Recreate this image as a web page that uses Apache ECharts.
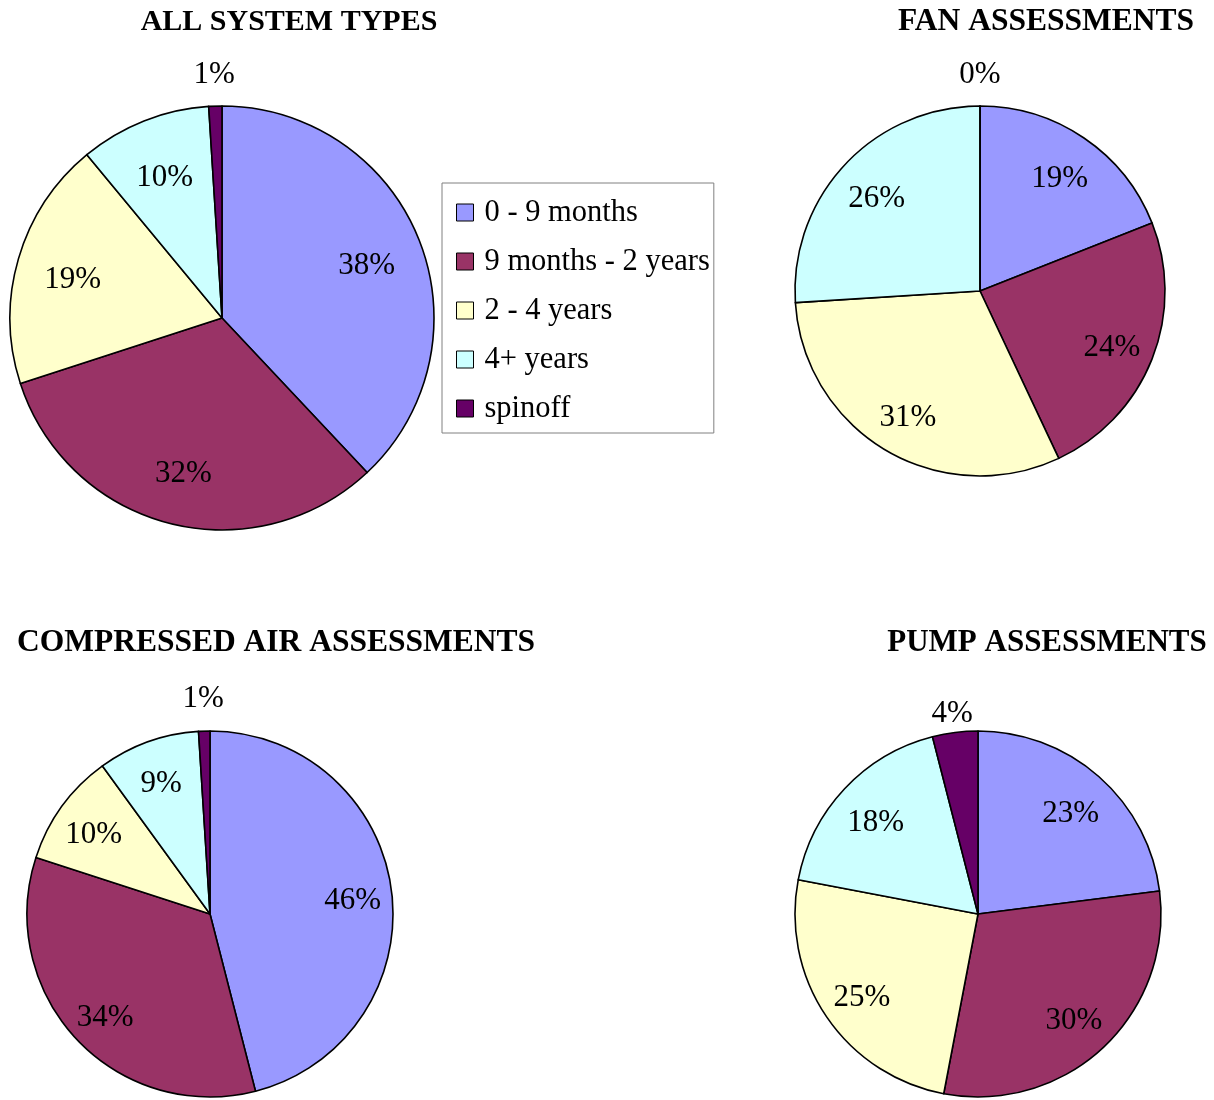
<!DOCTYPE html>
<html>
<head>
<meta charset="utf-8">
<script src="https://cdn.jsdelivr.net/npm/echarts@6/dist/echarts.min.js"></script>
<style>
  html, body { margin: 0; padding: 0; background: #fff; }
  #chart { width: 1214px; height: 1100px; }
</style>
</head>
<body>
<div id="chart"></div>
<script>
// Age of the outcome, share of assessments (percent)
const categories = ['0 - 9 months', '9 months - 2 years', '2 - 4 years', '4+ years', 'spinoff'];
const allSystemTypes = [38, 32, 19, 10, 1];
const fanAssessments = [19, 24, 31, 26, 0];
const compressedAirAssessments = [46, 34, 10, 9, 1];
const pumpAssessments = [23, 30, 25, 18, 4];
const titles = ['ALL SYSTEM TYPES', 'FAN ASSESSMENTS', 'COMPRESSED AIR ASSESSMENTS', 'PUMP ASSESSMENTS'];

const colors = ['#9999FF', '#993366', '#FFFFCC', '#CCFFFF', '#660066'];
const FONT = "'Liberation Serif', 'Times New Roman', serif";
const SMALL = 5; // slices below this get their label above the pie

const pies = [
  { values: allSystemTypes,           title: titles[0], cx: 222, cy: 318, r: 212, tx: 289,  ty: 7,   ts: 30,   inner: 0.72, off: 33 },
  { values: fanAssessments,           title: titles[1], cx: 980, cy: 291, r: 185, tx: 1046, ty: 6,   ts: 31.5, inner: 0.75, off: 33 },
  { values: compressedAirAssessments, title: titles[2], cx: 210, cy: 914, r: 183, tx: 276,  ty: 627, ts: 31.5, inner: 0.77, off: 34 },
  { values: pumpAssessments,          title: titles[3], cx: 978, cy: 914, r: 183, tx: 1047, ty: 627, ts: 31,   inner: 0.75, off: 21 }
];

const labelStyle = { color: '#000', fontSize: 31, fontFamily: FONT, formatter: '{c}%', offset: [0, 5] };
const series = [];

pies.forEach(p => {
  // the visible pie
  series.push({
    type: 'pie',
    center: [p.cx, p.cy],
    radius: p.r,
    startAngle: 90,
    clockwise: true,
    silent: true,
    animation: false,
    label: { show: false },
    labelLine: { show: false },
    itemStyle: { borderColor: '#000', borderWidth: 1.6 },
    data: p.values.map((v, i) => ({ name: categories[i], value: v, itemStyle: { color: colors[i] } }))
  });
  // ring carrying the percentage labels inside the slices
  const r0 = p.r * (2 * p.inner - 1);
  series.push({
    type: 'pie',
    center: [p.cx, p.cy],
    radius: [r0, p.r],
    startAngle: 90,
    clockwise: true,
    silent: true,
    animation: false,
    itemStyle: { color: 'rgba(0,0,0,0)', borderWidth: 0 },
    labelLine: { show: false },
    label: Object.assign({ show: true, position: 'inside' }, labelStyle),
    data: p.values.map((v, i) => ({ name: categories[i], value: v, label: { show: v >= SMALL } }))
  });
  // ring carrying the labels of thin slices, just outside the pie
  series.push({
    type: 'pie',
    center: [p.cx, p.cy],
    radius: [p.r, p.r + 2 * p.off],
    startAngle: 90,
    clockwise: true,
    silent: true,
    animation: false,
    stillShowZeroSum: true,
    itemStyle: { color: 'rgba(0,0,0,0)', borderWidth: 0 },
    labelLine: { show: false },
    label: Object.assign({ show: true, position: 'inside' }, labelStyle),
    data: p.values.map((v, i) => ({ name: categories[i], value: v, label: { show: v < SMALL } }))
  });
});

const option = {
  backgroundColor: '#fff',
  animation: false,
  title: pies.map(p => ({
    text: p.title,
    left: p.tx,
    top: p.ty,
    textAlign: 'center',
    padding: 0,
    textStyle: { fontFamily: FONT, fontSize: p.ts, fontWeight: 'bold', color: '#000' }
  })),
  legend: {
    orient: 'vertical',
    left: 442,
    top: 183,
    padding: [14, 4, 9, 14],
    itemGap: 18,
    itemWidth: 17,
    itemHeight: 17,
    icon: 'rect',
    selectedMode: false,
    backgroundColor: '#fff',
    borderColor: '#808080',
    borderWidth: 1,
    borderRadius: 0,
    textStyle: { fontFamily: FONT, fontSize: 30.5, color: '#000', padding: [0, 0, 0, 6] },
    data: categories.map((c, i) => ({
      name: c,
      itemStyle: { color: colors[i], borderColor: '#000', borderWidth: 1 }
    }))
  },
  series: series
};

const chart = echarts.init(document.getElementById('chart'), null, { renderer: 'canvas' });
chart.setOption(option);
</script>
</body>
</html>
